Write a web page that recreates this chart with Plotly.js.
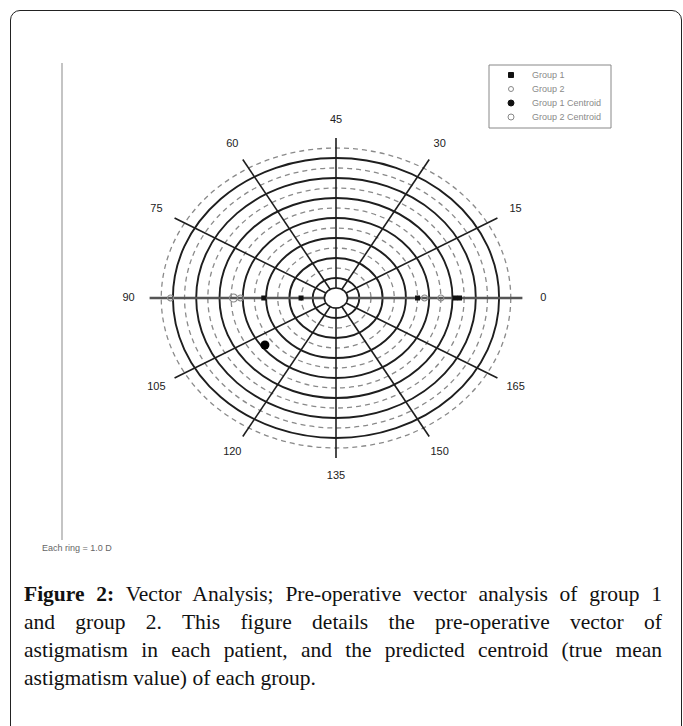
<!DOCTYPE html>
<html>
<head>
<meta charset="utf-8">
<script src="https://cdn.plot.ly/plotly-3.0.1.min.js"></script>
<style>
  html, body { margin: 0; padding: 0; background: #fff; }
  body { width: 683px; height: 726px; overflow: hidden; position: relative; }
  #frame { position: absolute; left: 10px; top: 10px; width: 672px; height: 780px;
           border: 1.5px solid #222; border-radius: 10px; box-sizing: border-box; }
  #chart { position: absolute; left: 0; top: 0; width: 683px; height: 570px; }
  #caption { position: absolute; left: 24px; top: 580px; width: 638px;
             font-family: "Liberation Serif", "DejaVu Serif", serif; font-size: 21.5px;
             line-height: 28px; color: #111; }
  #caption .ln { text-align: justify; text-align-last: justify; white-space: nowrap; }
  #caption .last { text-align: left; text-align-last: left; }
</style>
</head>
<body>
<div id="frame"></div>
<div id="chart"></div>
<div id="caption">
  <div class="ln"><b>Figure 2:</b> Vector Analysis; Pre-operative vector analysis of group 1</div>
  <div class="ln">and group 2. This figure details the pre-operative vector of</div>
  <div class="ln">astigmatism in each patient, and the predicted centroid (true mean</div>
  <div class="ln last">astigmatism value) of each group.</div>
</div>
<script>
// ---- data ----
const angleLabels = [0, 15, 30, 45, 60, 75, 90, 105, 120, 135, 150, 165];
const ringRadii = [0.5, 1, 1.5, 2, 2.5, 3, 3.5, 4, 4.5, 5, 5.5, 6, 6.5, 7, 7.5];
const spokeLength = 8;
const labelRadius = 8.9;

const group1X = [5.1, 5.3, 3.5, -3.1, -1.5];
const group1Y = [0, 0, 0, 0, 0];
const group2X = [-7.1, -4.1, 3.8, 4.5];
const group2Y = [0, 0, 0, 0];
const group1CentroidX = [-3.05];
const group1CentroidY = [-2.35];
const group2CentroidX = [-4.4];
const group2CentroidY = [0];
const legendNames = ['Group 1', 'Group 2', 'Group 1 Centroid', 'Group 2 Centroid'];

// ---- geometry of the drawing area (pixels per unit) ----
const W = 683, H = 570;
const cx = 336, cy = 298, pxX = 23.3, pxY = 20;
const xRange = [-cx / pxX, (W - cx) / pxX];
const yRange = [-(H - cy) / pxY, cy / pxY];
const px = v => v / W, py = v => 1 - v / H;

const shapes = [];
// rings
ringRadii.forEach(r => {
  if (r === ringRadii[0]) return;
  const solid = Number.isInteger(r);
  shapes.push({type: 'circle', xref: 'x', yref: 'y', x0: -r, x1: r, y0: -r, y1: r,
    layer: 'below',
    line: solid ? {color: '#1e1e1e', width: 1.9} : {color: '#8a8a8a', width: 1.3, dash: '5px,4px'}});
});
// spokes (double-angle)
angleLabels.forEach(a => {
  const t = 2 * a * Math.PI / 180;
  const horiz = (a === 0 || a === 90);
  shapes.push({type: 'line', xref: 'x', yref: 'y', x0: 0, y0: 0,
    x1: spokeLength * Math.cos(t), y1: spokeLength * Math.sin(t), layer: 'below',
    line: horiz ? {color: '#555', width: 2.6} : {color: '#1e1e1e', width: 1.6}});
});
// centre hole
const r0 = ringRadii[0];
shapes.push({type: 'circle', xref: 'x', yref: 'y', x0: -r0, x1: r0, y0: -r0, y1: r0,
  layer: 'below', fillcolor: '#fff', line: {color: '#1e1e1e', width: 1.6}});
// grey border of the figure image
shapes.push({type: 'line', xref: 'paper', yref: 'paper', x0: px(62), x1: px(62),
  y0: py(63), y1: py(540), line: {color: '#b0b0b0', width: 1.5}});

// ---- hand-drawn legend box (compact, like the original) ----
shapes.push({type: 'rect', xref: 'paper', yref: 'paper', x0: px(489), x1: px(611),
  y0: py(65), y1: py(128), fillcolor: '#fff', line: {color: '#888', width: 1}, layer: 'above'});
const legRows = [75, 89, 103, 117];
const legSym = [
  {kind: 'rect', s: 2.5, fill: '#111', line: '#111'},
  {kind: 'circle', s: 2.5, fill: '#fff', line: '#888'},
  {kind: 'circle', s: 3, fill: '#111', line: '#111'},
  {kind: 'circle', s: 3, fill: '#fff', line: '#888'}
];
legSym.forEach((m, i) => {
  shapes.push({type: m.kind, xref: 'paper', yref: 'paper', layer: 'above',
    xsizemode: 'pixel', ysizemode: 'pixel', xanchor: px(511), yanchor: py(legRows[i]),
    x0: -m.s, x1: m.s, y0: -m.s, y1: m.s, fillcolor: m.fill, line: {color: m.line, width: 1}});
});
const annotations = legendNames.map((n, i) => ({xref: 'paper', yref: 'paper',
  x: px(530), y: py(legRows[i]), xanchor: 'left', yanchor: 'middle', showarrow: false,
  text: n, font: {family: 'Liberation Sans, Arial, sans-serif', size: 9, color: '#8a8a8a'}}));
annotations.push({xref: 'paper', yref: 'paper', x: px(40), y: py(548),
  xanchor: 'left', yanchor: 'middle', showarrow: false, text: 'Each ring = 1.0 D',
  font: {family: 'Liberation Sans, Arial, sans-serif', size: 9, color: '#666'}});

const labelX = angleLabels.map(a => labelRadius * Math.cos(2 * a * Math.PI / 180));
const labelY = angleLabels.map(a => labelRadius * Math.sin(2 * a * Math.PI / 180));

const traces = [
  {type: 'scatter', mode: 'markers', name: legendNames[0], x: group1X, y: group1Y,
   marker: {symbol: 'square', size: 5, color: '#111'}},
  {type: 'scatter', mode: 'markers', name: legendNames[1], x: group2X, y: group2Y,
   marker: {symbol: 'circle-open', size: 6, color: '#888', line: {width: 1.2}}},
  {type: 'scatter', mode: 'markers', name: legendNames[2], x: group1CentroidX, y: group1CentroidY,
   marker: {symbol: 'circle', size: 9, color: '#000'}},
  {type: 'scatter', mode: 'markers', name: legendNames[3], x: group2CentroidX, y: group2CentroidY,
   marker: {symbol: 'circle-open', size: 8, color: '#888', line: {width: 1.2}}},
  {type: 'scatter', mode: 'text', x: labelX, y: labelY, text: angleLabels.map(String),
   textposition: 'middle center', showlegend: false, hoverinfo: 'skip',
   textfont: {family: 'Liberation Sans, Arial, sans-serif', size: 11, color: '#222'}}
];

const layout = {
  width: W, height: H,
  margin: {l: 0, r: 0, t: 0, b: 0},
  paper_bgcolor: 'rgba(0,0,0,0)', plot_bgcolor: 'rgba(0,0,0,0)',
  xaxis: {range: xRange, visible: false, fixedrange: true},
  yaxis: {range: yRange, visible: false, fixedrange: true},
  shapes: shapes,
  showlegend: false,
  annotations: annotations
};

Plotly.newPlot('chart', traces, layout, {staticPlot: true, displayModeBar: false});
</script>
</body>
</html>
